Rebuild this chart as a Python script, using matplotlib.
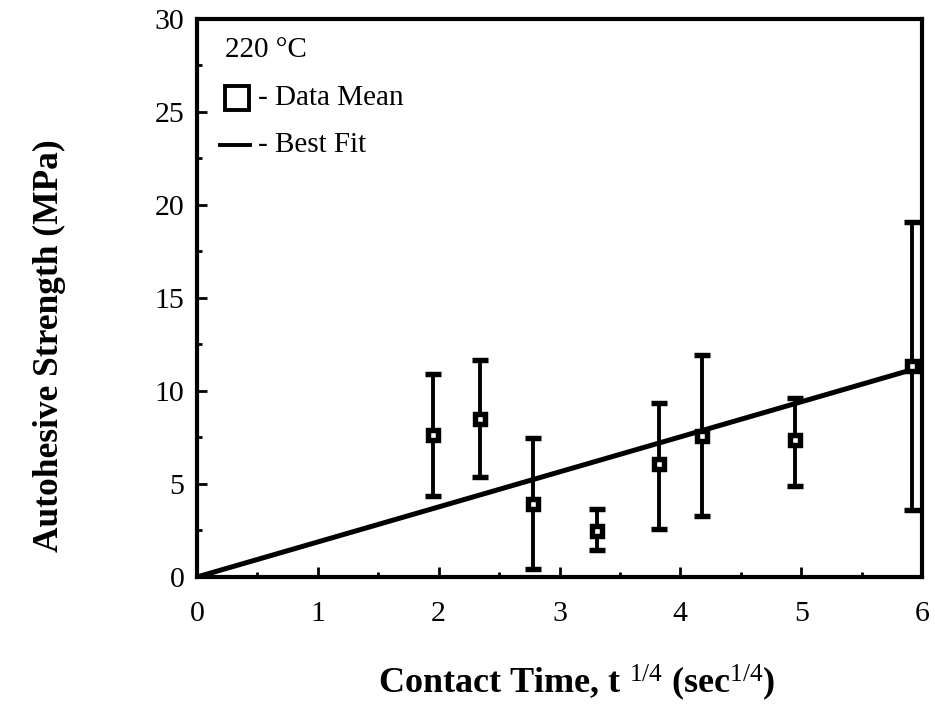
import numpy as np
import matplotlib
matplotlib.use("Agg")
import matplotlib.pyplot as plt
from matplotlib.ticker import MultipleLocator

plt.rcParams['font.family'] = ['Liberation Serif', 'DejaVu Serif']
plt.rcParams['mathtext.fontset'] = 'custom'
plt.rcParams['mathtext.rm'] = 'Liberation Serif'
plt.rcParams['mathtext.it'] = 'Liberation Serif'
plt.rcParams['mathtext.bf'] = 'Liberation Serif:bold'

# data (220 C)
t_quarter = [1.95, 2.34, 2.78, 3.31, 3.82, 4.18, 4.95, 5.92]
mean_strength = [7.65, 8.5, 3.9, 2.45, 6.05, 7.6, 7.35, 11.35]
upper = [10.9, 11.65, 7.45, 3.65, 9.35, 11.95, 9.6, 19.1]
lower = [4.35, 5.35, 0.45, 1.45, 2.6, 3.3, 4.9, 3.6]

# best fit line through origin
fit_x = [0.0, 6.0]
fit_y = [0.0, 11.3]

mean_arr = np.array(mean_strength)
yerr = [mean_arr - np.array(lower), np.array(upper) - mean_arr]

fig = plt.figure(figsize=(9.35, 7.11), dpi=100)
ax = fig.add_axes([0.2107, 0.1885, 0.7754, 0.7848])

ax.plot(fit_x, fit_y, color='black', lw=3.6, solid_capstyle='butt', zorder=2)
ax.errorbar(t_quarter, mean_strength, yerr=yerr, fmt='s', color='black',
            ecolor='black', elinewidth=2.8, capsize=5.5, capthick=2.8,
            ms=7.0, mfc='white', mec='black', mew=3.9, zorder=3)

ax.set_xlim(0, 6)
ax.set_ylim(0, 30)
ax.xaxis.set_major_locator(MultipleLocator(1))
ax.xaxis.set_minor_locator(MultipleLocator(0.5))
ax.yaxis.set_major_locator(MultipleLocator(5))
ax.yaxis.set_minor_locator(MultipleLocator(2.5))
ax.tick_params(which='both', direction='in', width=2, top=False, right=False)
ax.tick_params(which='major', length=7, labelsize=21.5)
ax.tick_params(axis='x', which='major', pad=17)
ax.tick_params(axis='y', which='major', pad=9)
ax.tick_params(which='minor', length=3.5)
for s in ax.spines.values():
    s.set_linewidth(3)

ax.set_xlabel(r'Contact Time, t $^{1/4}$ (sec$^{1/4}$)', fontsize=26,
              fontweight='bold', va='center', ha='center')
ax.set_ylabel('Autohesive Strength (MPa)', fontsize=25.5, fontweight='bold',
              va='center', ha='center')
ax.xaxis.set_label_coords(0.524, -0.19)
ax.yaxis.set_label_coords(-0.203, 0.415)

# hand-drawn style legend
ax.text(0.039, 0.945, '220 °C', transform=ax.transAxes, fontsize=21,
        va='center', ha='left')
ax.plot([0.055], [0.858], 's', transform=ax.transAxes, ms=17, mfc='white',
        mec='black', mew=2.8, clip_on=False)
ax.text(0.084, 0.858, '- Data Mean', transform=ax.transAxes, fontsize=21,
        va='center', ha='left')
ax.plot([0.032, 0.073], [0.774, 0.774], transform=ax.transAxes,
        color='black', lw=2.8)
ax.text(0.084, 0.774, '- Best Fit', transform=ax.transAxes, fontsize=21,
        va='center', ha='left')

fig.savefig('out.png', dpi=100)
